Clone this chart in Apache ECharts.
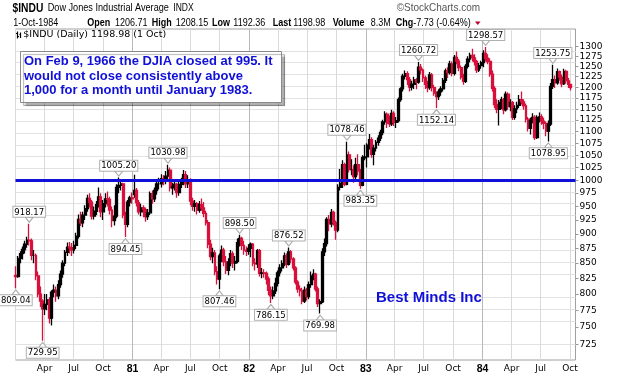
<!DOCTYPE html>
<html><head><meta charset="utf-8">
<script src="https://cdn.jsdelivr.net/npm/echarts@6/dist/echarts.min.js"></script>
<style>html,body{margin:0;padding:0;background:#fff}#c{width:626px;height:378px}</style>
</head><body><div id="c"></div>
<script>
// Weekly bars: [open, high, low, close]; one row per trading week (Wednesday date)
const bars1980 = [
 [830,845,809.04,828],[828,862,826,858],[858,870,850,866],[866,878,856,873],[873,888,866,882],
 [882,895,876,889],[889,918.17,880,888],[888,892,855,863],[863,872,850,863],[863,866,822,829],
 [829,836,795,800],[800,812,780,789],[789,792,729.95,777],[777,800,768,784],[784,800,775,791],
 [791,795,755,763],[763,806,752,803],[803,815,795,806],[806,812,788,797],[797,822,792,815],
 [815,838,810,832],[832,855,826,850],[850,872,845,868],[868,885,862,877],[877,886,866,876],
 [876,884,862,872],[872,888,866,880],[880,902,874,896],[896,935,892,926],[926,940,914,920],
 [920,940,912,934],[934,952,925,946],[946,972,940,965],[965,975,948,958],[958,962,926,932],
 [932,950,926,941],[941,960,934,953],[953,986,948,968],[968,975,930,940],[940,962,925,955],
 [955,975,948,964],[964,978,950,963],[963,968,935,943],[943,950,912,924],[924,952,915,932],
 [932,992,928,986],[986,1005.20,975,990],[990,1000,980,993],[993,995,928,934],[934,940,894.45,917],
 [917,962,912,958],[958,970,950,966],[966,976,955,964]
];
const bars1981 = [
 [972,1011,966,980],[980,985,950,957],[957,962,935,940],[940,955,932,947],[947,952,930,944],
 [944,948,922,931],[931,945,925,938],[938,978,934,974],[974,980,955,964],[964,986,958,980],
 [980,1000,972,993],[993,1005,982,993],[993,1012,986,1003],[1003,1010,990,998],[998,1018,992,1008],
 [1008,1030.98,1002,1020],[1020,1025,978,985],[985,995,972,987],[987,1000,980,992],[992,995,966,976],
 [976,998,970,992],[992,1005,985,996],[996,1020,990,1011],[1011,1018,985,993],[993,1010,985,1001],
 [1001,1004,952,960],[960,966,942,950],[950,962,940,955],[955,958,935,943],[943,960,938,953],
 [953,965,942,947],[947,958,930,937],[937,942,915,920],[920,925,875,882],[882,890,855,861],
 [861,876,850,867],[867,872,830,836],[836,845,815,824],[824,866,807.46,862],[862,880,852,872],
 [872,876,845,852],[852,862,832,838],[838,858,830,852],[852,872,845,866],[866,870,842,850],
 [850,862,838,853],[853,892,850,885],[885,898.50,878,892],[892,895,872,880],[880,888,864,872],
 [872,878,862,870],[870,882,864,875]
];
const bars1982 = [
 [875,885,860,882],[882,884,845,850],[850,858,838,849],[849,874,842,871],[871,874,828,833],
 [833,842,825,834],[834,840,826,833],[833,836,815,824],[824,828,798,806],[806,812,786.15,797],
 [797,812,792,805],[805,826,800,817],[817,838,812,834],[834,848,828,842],[842,855,836,849],
 [849,868,845,862],[862,866,842,848],[848,876.52,846,869],[869,872,850,857],[857,860,838,842],
 [842,845,815,819],[819,822,802,808],[808,814,796,805],[805,810,784,789],[789,812,786,806],
 [806,810,790,796],[796,820,792,815],[815,836,810,829],[829,840,822,832],[832,834,804,808],
 [808,812,780,785],[785,792,769.98,788],[788,875,786,869],[869,892,862,883],[883,930,878,926],
 [926,934,905,918],[918,945,912,939],[939,942,915,920],[920,924,890,907],[907,992,903,986],
 [986,1022,980,994],[994,1040,985,1031],[1031,1035,988,992],[992,1078.46,990,1051],[1051,1058,1015,1021],
 [1021,1042,1010,1021],[1021,1030,995,1007],[1007,1045,1002,1031],[1031,1052,1010,1018],[1018,1022,983.35,990],
 [990,1050,988,1045],[1045,1072,1040,1047]
];
const bars1983 = [
 [1047,1075,1025,1071],[1071,1095,1062,1083],[1083,1088,1045,1052],[1052,1072,1030,1065],[1065,1082,1058,1077],
 [1077,1092,1070,1086],[1086,1104,1080,1098],[1098,1126,1092,1121],[1121,1145,1115,1138],[1138,1142,1108,1118],
 [1118,1135,1110,1117],[1117,1148,1112,1140],[1140,1145,1112,1120],[1120,1132,1108,1124],[1124,1176,1120,1171],
 [1171,1200,1166,1196],[1196,1232,1190,1226],[1226,1240,1218,1232],[1232,1238,1205,1218],[1218,1224,1190,1200],
 [1200,1215,1192,1207],[1207,1225,1196,1217],[1217,1222,1195,1212],[1212,1260.72,1208,1248],[1248,1256,1230,1241],
 [1241,1245,1212,1222],[1222,1228,1196,1207],[1207,1215,1188,1199],[1199,1236,1194,1229],[1229,1234,1190,1199],
 [1199,1206,1180,1186],[1186,1190,1152.14,1178],[1178,1195,1170,1189],[1189,1202,1180,1196],[1196,1222,1190,1216],
 [1216,1245,1210,1239],[1239,1248,1222,1235],[1235,1264,1230,1256],[1256,1262,1226,1233],[1233,1278,1228,1272],
 [1272,1287,1255,1263],[1263,1268,1238,1247],[1247,1252,1218,1224],[1224,1232,1206,1214],[1214,1255,1210,1250],
 [1250,1275,1245,1268],[1268,1284,1260,1277],[1277,1294,1262,1271],[1271,1280,1252,1262],[1262,1266,1234,1241],
 [1241,1258,1236,1252],[1252,1264,1244,1259]
];
const bars1984 = [
 [1259,1290,1248,1282],[1282,1298.57,1262,1270],[1270,1280,1255,1262],[1262,1270,1225,1231],[1231,1240,1190,1197],
 [1197,1202,1152,1160],[1160,1172,1140,1149],[1149,1170,1113,1165],[1165,1178,1150,1171],[1171,1175,1138,1148],
 [1148,1190,1144,1184],[1184,1188,1148,1155],[1155,1172,1145,1164],[1164,1168,1125,1131],[1131,1158,1126,1150],
 [1150,1166,1140,1158],[1158,1182,1152,1171],[1171,1190,1160,1166],[1166,1172,1148,1157],[1157,1162,1120,1127],
 [1127,1132,1100,1107],[1107,1130,1094,1124],[1124,1140,1118,1131],[1131,1136,1082,1087],[1087,1136,1084,1131],
 [1131,1142,1120,1132],[1132,1138,1115,1123],[1123,1130,1105,1118],[1118,1122,1090,1101],[1101,1124,1078.95,1116],
 [1116,1210,1112,1202],[1202,1253.75,1196,1218],[1218,1228,1198,1210],[1210,1245,1206,1237],[1237,1240,1215,1224],
 [1224,1230,1200,1208],[1208,1244,1205,1238],[1238,1242,1208,1215],[1215,1222,1198,1207],[1206.71,1208.15,1192.36,1198.98]
];
const firstWeek = [1980, 0, 2];   // Wednesday of the first plotted week

// Annotated extremes: [value, which bar field, label side]
const annotations = [
 [918.17,'high','above'],[809.04,'low','below'],[729.95,'low','below'],[1005.20,'high','above'],
 [894.45,'low','below'],[1030.98,'high','above'],[807.46,'low','below'],[898.50,'high','above'],
 [786.15,'low','below'],[876.52,'high','above'],[769.98,'low','below'],[1078.46,'high','above'],
 [983.35,'low','below'],[1260.72,'high','above'],[1152.14,'low','below'],[1298.57,'high','above'],
 [1078.95,'low','below'],[1253.75,'high','above']
];
const yTicks = [725,750,775,800,825,850,875,900,925,950,975,1000,1025,1050,1075,1100,1125,1150,1175,1200,1225,1250,1275,1300];
const yRange = [703, 1345];
const xRange = ['1980-01-01', '1984-10-18'];
const xTickDates = ['1980-01-01','1980-04-01','1980-07-01','1980-10-01','1981-01-01','1981-04-01','1981-07-01','1981-10-01',
 '1982-01-01','1982-04-01','1982-07-01','1982-10-01','1983-01-01','1983-04-01','1983-07-01','1983-10-01',
 '1984-01-01','1984-04-01','1984-07-01','1984-10-01'];
const xTickLabels = ['','Apr','Jul','Oct','81','Apr','Jul','Oct','82','Apr','Jul','Oct','83','Apr','Jul','Oct','84','Apr','Jul','Oct'];
const refLine = 1000;

const RED = '#d8103c', BLUE = '#1010d8';
const L = Math.log10;
function ts(s){ const p = s.split('-').map(Number); return new Date(p[0], p[1]-1, p[2]).getTime(); }

const bars = [].concat(bars1980, bars1981, bars1982, bars1983, bars1984);
const weekTs = bars.map((b, i) => new Date(firstWeek[0], firstWeek[1], firstWeek[2] + 7*i).getTime());
const candleData = bars.map((b, i) => [weekTs[i], L(b[0]), L(b[3]), L(b[2]), L(b[1])]);

const xTickTs = xTickDates.map(ts);
const labelTs = xTickTs.filter((t, i) => xTickLabels[i] !== '');

const markPts = annotations.map(a => {
  const field = a[1] === 'high' ? 1 : 2;
  const idx = bars.findIndex(b => b[field] === a[0]);
  const above = a[2] === 'above';
  return {
    coord: [weekTs[idx], L(a[0])],
    value: a[0].toFixed(2),
    symbolRotate: above ? 180 : 0,
    symbolOffset: [0, above ? -4 : 4],
    label: { position: above ? 'top' : 'bottom', distance: 0 }
  };
});

const chart = echarts.init(document.getElementById('c'), null, {renderer: 'canvas'});

function txt(x, y, s, font, fill, sx) {
  return {type: 'text', x: x, y: y, scaleX: sx || 1, z: 100, silent: true,
    style: {text: s, font: font, fill: fill, verticalAlign: 'middle', align: 'left'}};
}
const F = '"Liberation Sans", Arial, sans-serif';
const FD = '"DejaVu Sans", Verdana, sans-serif';
const L2 = 23, S2 = 0.9;

chart.setOption({
  animation: false,
  backgroundColor: '#fff',
  grid: {left: 15.5, right: 50.5, top: 29, bottom: 18, show: true, borderColor: '#a0a0a0', borderWidth: 1, backgroundColor: '#fff'},
  xAxis: {
    type: 'value', min: ts(xRange[0]), max: ts(xRange[1]),
    axisLine: {show: false}, axisTick: {show: false}, splitLine: {show: false},
    axisLabel: {
      customValues: labelTs, margin: 4, fontFamily: FD, fontSize: 9, color: '#000',
      formatter: function (v) {
        let best = 0, bd = Infinity;
        xTickTs.forEach((t, i) => { const d = Math.abs(t - v); if (d < bd) { bd = d; best = i; } });
        const s = xTickLabels[best];
        return /^\d+$/.test(s) ? '{b|' + s + '}' : s;
      },
      rich: {b: {fontWeight: 'bold', fontSize: 10.5, fontFamily: F, color: '#000'}}
    }
  },
  yAxis: {
    type: 'value', position: 'right', min: L(yRange[0]), max: L(yRange[1]), scale: true,
    axisLine: {show: false}, splitLine: {show: false},
    axisTick: {show: true, customValues: yTicks.map(L), length: 3, lineStyle: {color: '#999'}},
    axisLabel: {customValues: yTicks.map(L), margin: 4, fontFamily: FD, fontSize: 9, color: '#000',
      formatter: v => String(Math.round(Math.pow(10, v)))}
  },
  series: [
    {
      type: 'line', data: [], silent: true,
      markLine: {
        silent: true, symbol: 'none', z: 1, animation: false,
        label: {show: false}, emphasis: {disabled: true},
        data: yTicks.map(v => ({yAxis: L(v), lineStyle: {color: '#e2e2e2', width: 1, type: 'solid'}}))
          .concat(xTickDates.map((d, i) => ({xAxis: xTickTs[i], lineStyle: {color: /^\d+$/.test(xTickLabels[i]) ? '#b8b8b8' : '#dadada', width: 1, type: 'solid'}})))
      }
    },
    {
      type: 'candlestick', data: candleData, encode: {x: 0, y: [1, 2, 3, 4]}, z: 2,
      barWidth: 2.4, silent: true,
      itemStyle: {color: '#000', color0: RED, borderColor: '#000', borderColor0: RED, borderWidth: 1.3}
    },
    {
      type: 'line', data: [], silent: true, z: 4,
      markLine: {
        silent: true, symbol: 'none', z: 4, animation: false, label: {show: false},
        data: [{yAxis: L(refLine), lineStyle: {color: BLUE, width: 3, type: 'solid'}}]
      },
      markPoint: {
        z: 6, animation: false, silent: true,
        symbol: 'triangle', symbolSize: [8, 5],
        itemStyle: {color: '#fff', borderColor: '#aaa', borderWidth: 1},
        label: {show: true, formatter: '{c}', fontFamily: FD, fontSize: 8.5, color: '#000',
          backgroundColor: '#fff', borderColor: '#b0b0b0', borderWidth: 1, padding: [1, 1, 0, 1], lineHeight: 9},
        data: markPts
      }
    }
  ],
  graphic: [
    txt(12.5, 8.5, '$INDU', 'bold 13.5px ' + F, '#000', 0.76),
    txt(47.7, 8.5, 'Dow Jones Industrial Average', '10.5px ' + F, '#000', 0.87),
    txt(173.3, 8.5, 'INDX', '10px ' + F, '#000', 0.85),
    txt(396.7, 8.5, '\u00A9StockCharts.com', '10.5px ' + F, '#555', 0.95),
    txt(13.3, L2, '1-Oct-1984', '10px ' + F, '#000', S2),
    txt(87.3, L2, 'Open', 'bold 10px ' + F, '#000', S2),
    txt(115, L2, '1206.71', '10px ' + F, '#000', S2),
    txt(151.7, L2, 'High', 'bold 10px ' + F, '#000', S2),
    txt(175.7, L2, '1208.15', '10px ' + F, '#000', S2),
    txt(212, L2, 'Low', 'bold 10px ' + F, '#000', S2),
    txt(233.3, L2, '1192.36', '10px ' + F, '#000', S2),
    txt(272.7, L2, 'Last', 'bold 10px ' + F, '#000', S2),
    txt(293.3, L2, '1198.98', '10px ' + F, '#000', S2),
    txt(332.7, L2, 'Volume', 'bold 10px ' + F, '#000', S2),
    txt(370.7, L2, '8.3M', '10px ' + F, '#000', S2),
    txt(395.7, L2, 'Chg', 'bold 10px ' + F, '#000', S2),
    txt(413.3, L2, '-7.73 (-0.64%)', '10px ' + F, '#000', S2),
    {type: 'polygon', z: 100, silent: true, shape: {points: [[475, 21.5], [480.5, 21.5], [477.75, 25]]}, style: {fill: '#c00030'}},
    {type: 'group', z: 100, silent: true, children: [
      {type: 'line', shape: {x1: 17.5, y1: 31.5, x2: 17.5, y2: 38.5}, style: {stroke: '#000', lineWidth: 1.2}},
      {type: 'line', shape: {x1: 16, y1: 33.5, x2: 17.5, y2: 33.5}, style: {stroke: '#000', lineWidth: 1}},
      {type: 'line', shape: {x1: 17.5, y1: 36.5, x2: 19, y2: 36.5}, style: {stroke: '#000', lineWidth: 1}},
      {type: 'line', shape: {x1: 20.5, y1: 32.5, x2: 20.5, y2: 38}, style: {stroke: '#000', lineWidth: 1.2}},
      {type: 'line', shape: {x1: 19.5, y1: 34.5, x2: 20.5, y2: 34.5}, style: {stroke: '#000', lineWidth: 1}}
    ]},
    txt(23.3, 35, '$INDU (Daily) 1198.98 (1 Oct)', '9.5px ' + FD, '#000', 1),
    {type: 'rect', z: 100, silent: true, shape: {x: 20.5, y: 51.5, width: 261, height: 51},
      style: {fill: '#fff', stroke: '#8a8a8a', lineWidth: 1, shadowColor: 'rgba(0,0,0,0.3)', shadowOffsetX: 3, shadowOffsetY: 3, shadowBlur: 1}},
    txt(24, 61.7, 'On Feb 9, 1966 the DJIA closed at 995. It', 'bold 13px ' + F, BLUE, 1),
    txt(24, 76.2, 'would not close consistently above', 'bold 13px ' + F, BLUE, 1),
    txt(24, 90.8, '1,000 for a month until January 1983.', 'bold 13px ' + F, BLUE, 1),
    txt(376, 298, 'Best Minds Inc', 'bold 15px ' + F, BLUE, 1)
  ]
});
</script>
</body></html>
